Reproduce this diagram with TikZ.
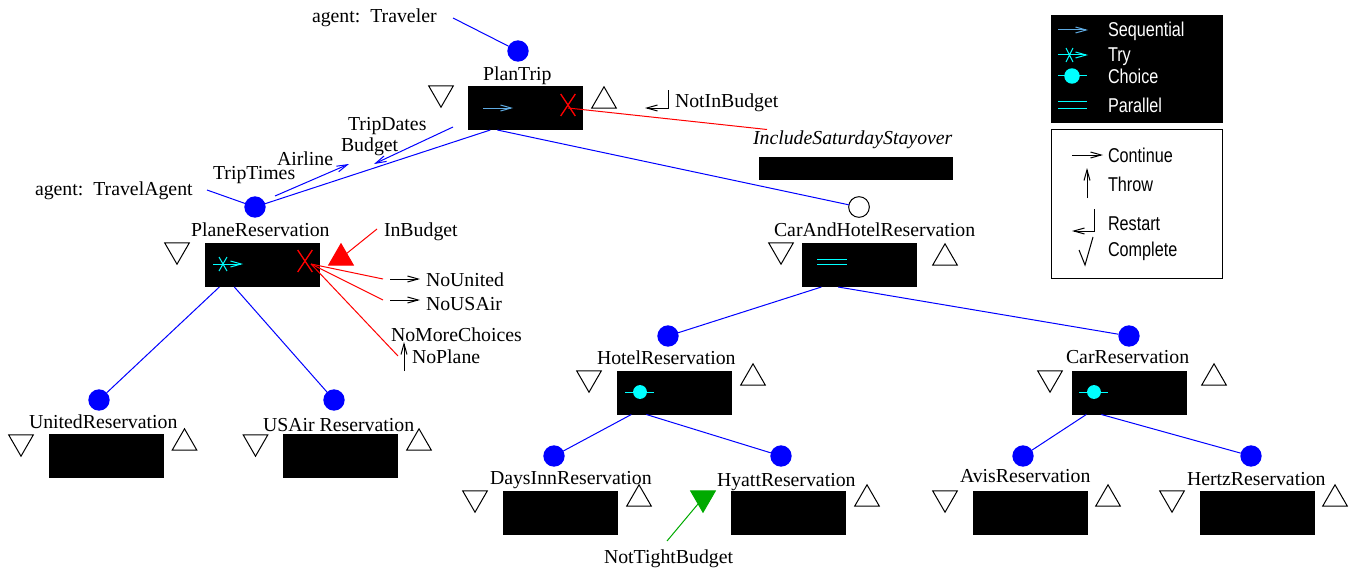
\documentclass[tikz,border=0pt]{standalone}
\usepackage{fontspec}
\setmainfont{Liberation Serif}
\setsansfont{Liberation Sans}
\usepackage{tikz}
\usetikzlibrary{arrows.meta,shapes.geometric,shapes.misc}
\definecolor{seqblue}{RGB}{95,170,225}
\definecolor{exitgreen}{RGB}{0,170,0}
\definecolor{keycyan}{RGB}{0,255,255}
\def\barb{{Straight Barb[length=8pt,width=4.5pt]}}
\tikzset{
	taskbox/.style={fill=black,minimum width=86.25pt,minimum height=33pt,inner sep=0pt,outer sep=0pt},
	agentdot/.style={circle,fill=blue,minimum size=16pt,inner sep=0pt,outer sep=0pt},
	tridown/.style={regular polygon,regular polygon sides=3,shape border rotate=180,draw,line width=.75pt,minimum size=21.3pt,inner sep=0pt,outer sep=0pt},
	triup/.style={regular polygon,regular polygon sides=3,draw,line width=.75pt,minimum size=21.3pt,inner sep=0pt,outer sep=0pt},
	failx/.style={cross out,draw=red,line width=1pt,minimum width=11pt,minimum height=16.5pt,inner sep=0pt,outer sep=0pt},
	lbl/.style={anchor=base west,inner sep=0pt,outer sep=0pt,font=\fontsize{14.85}{17}\selectfont},
	keylbl/.style={anchor=base west,inner sep=0pt,outer sep=0pt,xscale=.81,font=\sffamily\fontsize{15}{17}\selectfont},
	blueline/.style={blue,line width=.75pt},
	redline/.style={red,line width=.75pt},
	flow/.style={-\barb,line width=.75pt}
}
\begin{document}
\begin{tikzpicture}[x=.75pt,y=-.75pt]
			\useasboundingbox (0,0) rectangle (1355,567);
			\node[lbl] (travelerlbl) at (312,23) {agent:\ \ Traveler};
			\node[lbl] (agentlbl) at (35,195) {agent:\ \ TravelAgent};
			\node[lbl] (plantriplbl) at (483,80) {PlanTrip};
			\node[lbl] (planelbl) at (191,236) {PlaneReservation};
			\node[lbl] (carhotellbl) at (774,236) {CarAndHotelReservation};
			\node[lbl] (hotellbl) at (597,364) {HotelReservation};
			\node[lbl] (carlbl) at (1066,363) {CarReservation};
			\node[lbl] (unitedlbl) at (29,428) {UnitedReservation};
			\node[lbl] (usairlbl) at (263,431) {USAir Reservation};
			\node[lbl] (dayslbl) at (490,484) {DaysInnReservation};
			\node[lbl] (hyattlbl) at (717,486) {HyattReservation};
			\node[lbl] (avislbl) at (960,482) {AvisReservation};
			\node[lbl] (hertzlbl) at (1187,485) {HertzReservation};
			\node[lbl] (triptimes) at (213,179) {TripTimes};
			\node[lbl] (airline) at (277,165) {Airline};
			\node[lbl] (tripdates) at (348,130) {TripDates};
			\node[lbl] (budget) at (341,151) {Budget};
			\node[lbl] (notinbudget) at (675,108) {NotInBudget};
			\node[lbl] (staylbl) at (753,144) {\itshape IncludeSaturdayStayover};
			\node[lbl] (inbudget) at (384,236) {InBudget};
			\node[lbl] (nounited) at (426,286) {NoUnited};
			\node[lbl] (nousair) at (426,310) {NoUSAir};
			\node[lbl] (nomore) at (391,341) {NoMoreChoices};
			\node[lbl] (noplane) at (412,363) {NoPlane};
			\node[lbl] (nottight) at (604,563) {NotTightBudget};

			\node[taskbox] (plantrip) at (525.5,108) {};
			\node[taskbox] (plane) at (262.5,265) {};
			\node[taskbox] (carhotel) at (859.5,265) {};
			\node[taskbox] (hotel) at (674.5,392.5) {};
			\node[taskbox] (car) at (1129.5,392.5) {};
			\node[taskbox] (united) at (106.5,456) {};
			\node[taskbox] (usair) at (340.5,456) {};
			\node[taskbox] (days) at (560.5,513) {};
			\node[taskbox] (hyatt) at (788.5,513) {};
			\node[taskbox] (avis) at (1030.5,513) {};
			\node[taskbox] (hertz) at (1257.5,513) {};
			\node[fill=black,minimum width=145.5pt,minimum height=17.25pt,inner sep=0pt,outer sep=0pt] (staybox) at (856,168.5) {};

			\node[agentdot] (plantripdot) at (518,51) {};
			\node[agentdot] (planedot) at (255,207) {};
			\node[circle,draw,fill=white,line width=.75pt,minimum size=15.5pt,inner sep=0pt,outer sep=0pt] (carhoteldot) at (859,207) {};
			\node[agentdot] (hoteldot) at (668,336) {};
			\node[agentdot] (cardot) at (1129,336) {};
			\node[agentdot] (uniteddot) at (99,400) {};
			\node[agentdot] (usairdot) at (334,400) {};
			\node[agentdot] (daysdot) at (554,456) {};
			\node[agentdot] (hyattdot) at (781,456) {};
			\node[agentdot] (avisdot) at (1023,456) {};
			\node[agentdot] (hertzdot) at (1251,456) {};

			\node[tridown] (plantripin) at (441,93) {};
			\node[triup] (plantripout) at (604,101) {};
			\node[tridown] (planein) at (177,250) {};
			\node[triup,fill=red,draw=red] (planeout) at (341,258) {};
			\node[tridown] (carhotelin) at (781,250) {};
			\node[triup] (carhotelout) at (945,258) {};
			\node[tridown] (hotelin) at (589,378) {};
			\node[triup] (hotelout) at (753,378) {};
			\node[tridown] (carin) at (1050,378) {};
			\node[triup] (carout) at (1214,378) {};
			\node[tridown] (unitedin) at (21,442) {};
			\node[triup] (unitedout) at (184.5,443) {};
			\node[tridown] (usairin) at (255.5,442) {};
			\node[triup] (usairout) at (419,443) {};
			\node[tridown] (daysin) at (475,498) {};
			\node[triup] (daysout) at (639,499) {};
			\node[tridown,fill=exitgreen,draw=exitgreen] (hyattin) at (703,498) {};
			\node[triup] (hyattout) at (867,499) {};
			\node[tridown] (avisin) at (945,498) {};
			\node[triup] (avisout) at (1108,499) {};
			\node[tridown] (hertzin) at (1172,498) {};
			\node[triup] (hertzout) at (1335,499) {};

			\coordinate (travelerend) at (453,18);
			\coordinate (agentend) at (207,190);
			\coordinate (planered) at (311,264);
			\coordinate (plantripred) at (568,108);
			\coordinate (stayend) at (767,129.5);
			\coordinate (inbudgetend) at (377,229);
			\coordinate (nounitedend) at (383,279);
			\coordinate (nousairend) at (383,300);
			\coordinate (noplaneend) at (398,356);
			\coordinate (nottightend) at (667,541);

			\draw[blueline] (travelerend) -- (plantripdot);
			\draw[blueline] (agentend) -- (planedot);
			\draw[blueline] (planedot) -- (plantrip.212);
			\draw[blueline] (plantrip.218) -- (carhoteldot);
			\draw[blueline] (plane.207) -- (uniteddot);
			\draw[blueline] (plane.218) -- (usairdot);
			\draw[blueline] (carhotel.210) -- (hoteldot);
			\draw[blueline] (carhotel.226) -- (cardot);
			\draw[blueline] (hotel.207) -- (daysdot);
			\draw[blueline] (hotel.218) -- (hyattdot);
			\draw[blueline] (car.207) -- (avisdot);
			\draw[blueline] (car.218) -- (hertzdot);
			\coordinate (airlinefrom) at (275,196);
			\coordinate (airlineto) at (349,164);
			\coordinate (budgetfrom) at (453,127);
			\coordinate (budgetto) at (374,164);
			\draw[flow,blue] (airlinefrom) -- (airlineto);
			\draw[flow,blue] (budgetfrom) -- (budgetto);

			\node[failx] (plantripfail) at (568,105) {};
			\node[failx] (planefail) at (305,261) {};
			\draw[redline] (plantripred) -- (stayend);
			\draw[redline] (inbudgetend) -- (planeout);
			\draw[redline] (planered) -- (nounitedend);
			\draw[redline] (planered) -- (nousairend);
			\draw[redline] (planered) -- (noplaneend);
			\draw[exitgreen,line width=.75pt] (nottightend) -- (hyattin);

			\draw[flow,seqblue] (483,108) -- (513,108);
			\draw[flow,keycyan] (213,264) -- (243,264);
			\draw[keycyan,line width=.75pt] (219,257) -- (227,271) (227,257) -- (219,271);
			\draw[keycyan,line width=.75pt] (817,259) -- (847,259) (817,264) -- (847,264);
			\draw[keycyan,line width=.75pt] (625,392) -- (654,392);
			\fill[keycyan] (640,392) circle (5.2pt);
			\draw[keycyan,line width=.75pt] (1079,392) -- (1108,392);
			\fill[keycyan] (1094,392) circle (5.2pt);

			\draw[flow] (390,279) -- (420,279);
			\draw[flow] (390,300) -- (420,300);
			\draw[flow] (404,371) -- (404,342);
			\draw[flow] (668,90) -- (668,108) -- (645,108);

			\node[fill=black,minimum width=129pt,minimum height=81pt,inner sep=0pt,outer sep=0pt] (keyblack) at (1137,69) {};
			\node[draw,minimum width=128.25pt,minimum height=111.75pt,inner sep=0pt,outer sep=0pt,line width=.75pt] (keywhite) at (1136.5,203.5) {};
			\draw[flow,seqblue] (1058,30) -- (1088,30);
			\draw[flow,keycyan] (1058,55) -- (1088,55);
			\draw[keycyan,line width=.75pt] (1066,48) -- (1073,62) (1073,48) -- (1066,62);
			\draw[keycyan,line width=.75pt] (1058,76) -- (1087,76);
			\fill[keycyan] (1072,76) circle (5.8pt);
			\draw[keycyan,line width=.75pt] (1058,101) -- (1087,101) (1058,108) -- (1087,108);
			\node[keylbl,text=white] (keyseq) at (1108,37) {Sequential};
			\node[keylbl,text=white] (keytry) at (1108,62) {Try};
			\node[keylbl,text=white] (keychoice) at (1108,84) {Choice};
			\node[keylbl,text=white] (keypar) at (1108,113) {Parallel};
			\draw[flow] (1072,155) -- (1103,155);
			\draw[flow] (1087,198) -- (1087,168);
			\draw[flow] (1094,209) -- (1094,231) -- (1072,231);
			\draw[line width=.75pt] (1079,250) -- (1085,265) -- (1093,237);
			\node[keylbl] (keycont) at (1108,162) {Continue};
			\node[keylbl] (keythrow) at (1108,191) {Throw};
			\node[keylbl] (keyrestart) at (1108,230) {Restart};
			\node[keylbl] (keycomplete) at (1108,256) {Complete};
		\end{tikzpicture}
\end{document}
